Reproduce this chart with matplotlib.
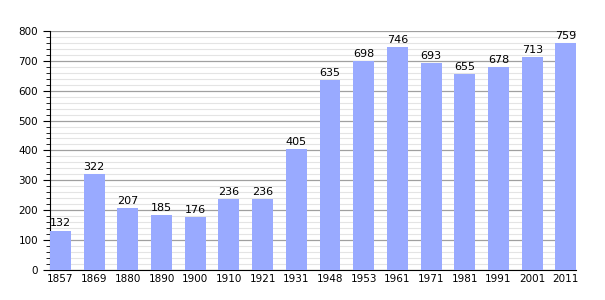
import matplotlib.pyplot as plt
from matplotlib.ticker import MultipleLocator

years = ['1857', '1869', '1880', '1890', '1900', '1910', '1921', '1931',
         '1948', '1953', '1961', '1971', '1981', '1991', '2001', '2011']
population = [132, 322, 207, 185, 176, 236, 236, 405,
              635, 698, 746, 693, 655, 678, 713, 759]

bar_w = 0.62

fig = plt.figure(figsize=(6.05, 3.0), dpi=100)
ax = fig.add_axes([0.0826, 0.1, 0.87, 0.797])

x = range(len(years))
ax.bar(x, population, width=bar_w, color='#99aaff', zorder=3)
for i, v in zip(x, population):
    ax.text(i, v + 7, str(v), ha='center', va='bottom', fontsize=8, zorder=4)

ax.set_xlim(-bar_w / 2, len(years) - 1 + bar_w / 2)
ax.set_ylim(0, 800)
ax.yaxis.set_major_locator(MultipleLocator(100))
ax.yaxis.set_minor_locator(MultipleLocator(20))
ax.grid(axis='y', which='major', color='#a0a0a0', lw=0.9, zorder=1)
ax.grid(axis='y', which='minor', color='#e4e4e4', lw=0.8, zorder=1)
ax.set_xticks(list(x))
ax.set_xticklabels(years)
ax.tick_params(axis='x', length=0, labelsize=7.5, pad=3)
ax.tick_params(axis='y', which='major', length=5, labelsize=7.5)
ax.tick_params(axis='y', which='minor', length=3)
for s in ['top', 'right']:
    ax.spines[s].set_visible(False)

fig.savefig('out.png', dpi=100)
